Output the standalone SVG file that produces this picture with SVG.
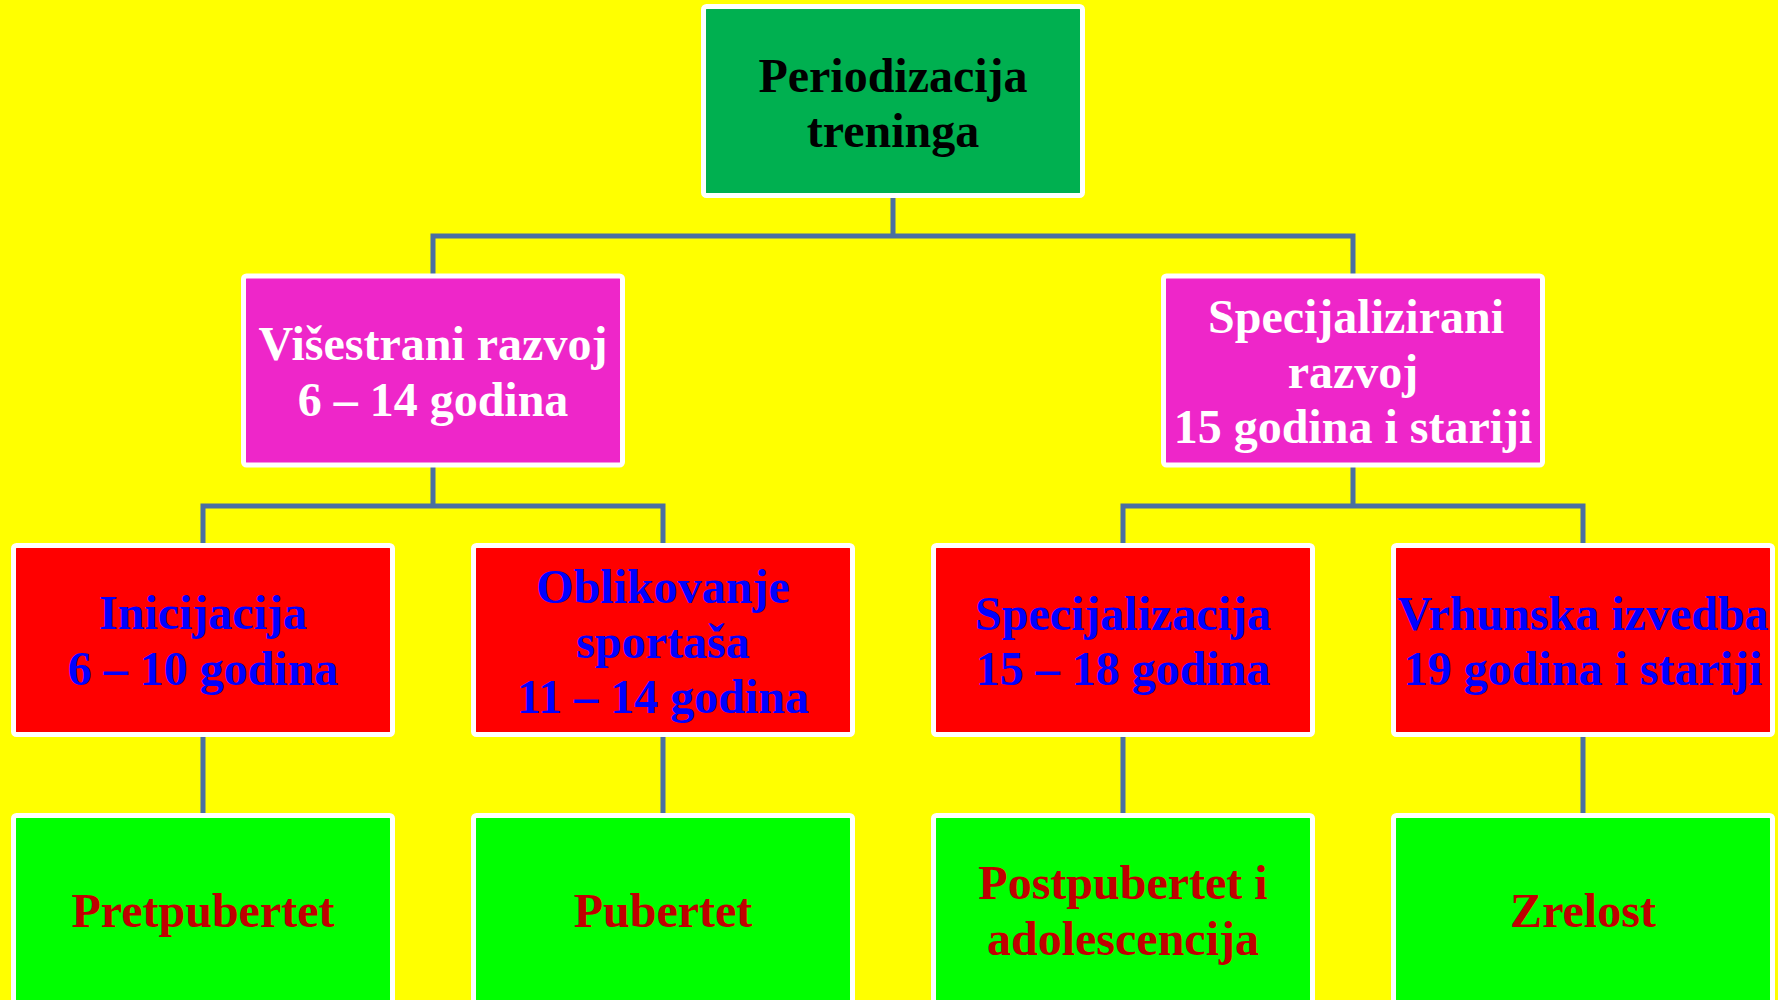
<svg xmlns="http://www.w3.org/2000/svg" width="1778" height="1000" viewBox="0 0 1778 1000">
<style>
.box{stroke:#FFFFFF;stroke-width:5;}
.top{fill:#00B050;}
.mid{fill:#EE26C9;}
.red{fill:#FF0000;}
.grn{fill:#00FF00;}
text{font-family:"Liberation Serif","Times New Roman",serif;font-weight:bold;font-size:48px;text-anchor:middle;}
.tb{fill:#000000;}
.tw{fill:#FFFFFF;}
.tu{fill:#0000FF;}
.tr{fill:#C00000;}
.conn{fill:none;stroke:#4A6FA0;stroke-width:5;stroke-linejoin:miter;}
</style>
<rect x="0" y="0" width="1778" height="1000" fill="#FFFF00"/>
<g id="connectors">
<path class="conn" d="M893,198 V236 M433,274 V236 H1353 V274"/>
<path class="conn" d="M433,467 V506 M203,543 V506 H663 V543"/>
<path class="conn" d="M1353,467 V506 M1123,543 V506 H1583 V543"/>
<path class="conn" d="M203,737 V813 M663,737 V813 M1123,737 V813 M1583,737 V813"/>
</g>
<g id="periodizacija">
<rect class="box top" x="703.5" y="6.5" width="379" height="189" rx="3"/>
<text class="tb" x="893" y="92">Periodizacija</text>
<text class="tb" x="893" y="147">treninga</text>
</g>
<g id="visestrani">
<rect class="box mid" x="243.5" y="276" width="379" height="189" rx="3"/>
<text class="tw" x="433" y="360">Višestrani razvoj</text>
<text class="tw" x="433" y="415.5">6 – 14 godina</text>
</g>
<g id="specijalizirani">
<rect class="box mid" x="1163.5" y="276" width="379" height="189" rx="3"/>
<text class="tw" x="1356" y="332.7">Specijalizirani</text>
<text class="tw" x="1353" y="387.7">razvoj</text>
<text class="tw" x="1353" y="442.7">15 godina i stariji</text>
</g>
<g id="inicijacija">
<rect class="box red" x="13.5" y="545.5" width="379" height="189" rx="3"/>
<text class="tu" x="203" y="629">Inicijacija</text>
<text class="tu" x="203" y="685">6 – 10 godina</text>
</g>
<g id="oblikovanje">
<rect class="box red" x="473.5" y="545.5" width="379" height="189" rx="3"/>
<text class="tu" x="663" y="602.7">Oblikovanje</text>
<text class="tu" x="663" y="658.3">sportaša</text>
<text class="tu" x="663" y="713.3">11 – 14 godina</text>
</g>
<g id="specijalizacija">
<rect class="box red" x="933.5" y="545.5" width="379" height="189" rx="3"/>
<text class="tu" x="1123" y="630">Specijalizacija</text>
<text class="tu" x="1123" y="685">15 – 18 godina</text>
</g>
<g id="vrhunska">
<rect class="box red" x="1393.5" y="545.5" width="379" height="189" rx="3"/>
<text class="tu" x="1583" y="630">Vrhunska izvedba</text>
<text class="tu" x="1583" y="685">19 godina i stariji</text>
</g>
<g id="pretpubertet">
<rect class="box grn" x="13.5" y="815.5" width="379" height="189" rx="3"/>
<text class="tr" x="203" y="927">Pretpubertet</text>
</g>
<g id="pubertet">
<rect class="box grn" x="473.5" y="815.5" width="379" height="189" rx="3"/>
<text class="tr" x="663" y="927">Pubertet</text>
</g>
<g id="postpubertet">
<rect class="box grn" x="933.5" y="815.5" width="379" height="189" rx="3"/>
<text class="tr" x="1123" y="899.3">Postpubertet i</text>
<text class="tr" x="1123" y="955">adolescencija</text>
</g>
<g id="zrelost">
<rect class="box grn" x="1393.5" y="815.5" width="379" height="189" rx="3"/>
<text class="tr" x="1583" y="927">Zrelost</text>
</g>
</svg>
